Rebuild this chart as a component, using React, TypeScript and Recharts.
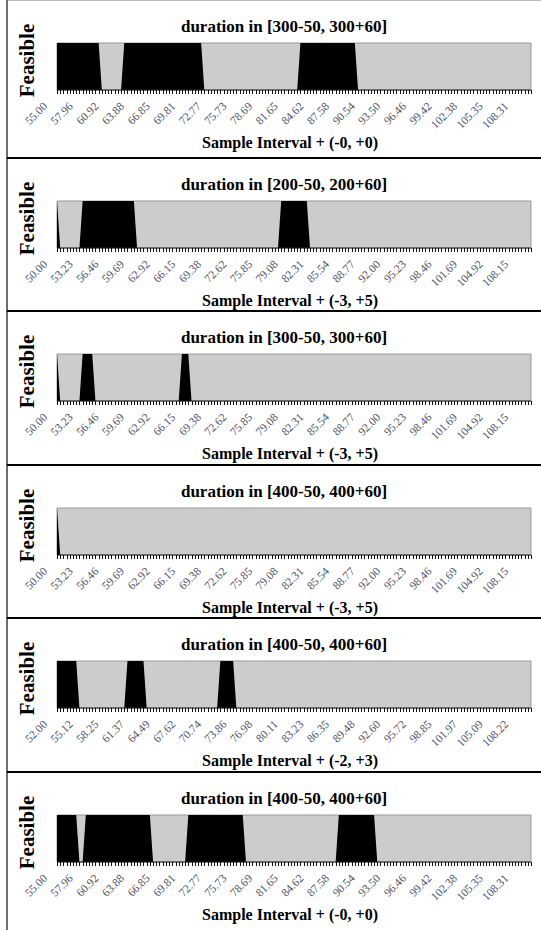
import React from "react";
import { AreaChart, Area, XAxis, YAxis, CartesianGrid } from "recharts";

// every panel has 149 sample points, a label on every 8th one
const POINTS = 149;
const LABEL_STEP = 8;

const ticksA = ["55.00", "57.96", "60.92", "63.88", "66.85", "69.81", "72.77", "75.73", "78.69", "81.65", "84.62", "87.58", "90.54", "93.50", "96.46", "99.42", "102.38", "105.35", "108.31"];
const ticksB = ["50.00", "53.23", "56.46", "59.69", "62.92", "66.15", "69.38", "72.62", "75.85", "79.08", "82.31", "85.54", "88.77", "92.00", "95.23", "98.46", "101.69", "104.92", "108.15"];
const ticksC = ["52.00", "55.12", "58.25", "61.37", "64.49", "67.62", "70.74", "73.86", "76.98", "80.11", "83.23", "86.35", "89.48", "92.60", "95.72", "98.85", "101.97", "105.09", "108.22"];

// feasible runs, [first, last] sample index
const feasible1 = [[0, 13], [21, 45], [76, 93]];
const feasible2 = [[0, 0], [8, 24], [70, 78]];
const feasible3 = [[0, 0], [8, 11], [39, 41]];
const feasible4 = [[0, 0]];
const feasible5 = [[0, 6], [22, 27], [51, 55]];
const feasible6 = [[0, 6], [9, 29], [41, 58], [88, 99]];

const titles = [
  "duration in [300-50, 300+60]",
  "duration in [200-50, 200+60]",
  "duration in [300-50, 300+60]",
  "duration in [400-50, 400+60]",
  "duration in [400-50, 400+60]",
  "duration in [400-50, 400+60]",
];
const xTitles = [
  "Sample Interval + (-0, +0)",
  "Sample Interval + (-3, +5)",
  "Sample Interval + (-3, +5)",
  "Sample Interval + (-3, +5)",
  "Sample Interval + (-2, +3)",
  "Sample Interval + (-0, +0)",
];

const SERIF = "'Liberation Serif', 'Times New Roman', serif";
const PLOT_TOP = 42;
const PLOT_H = 47;

const panelTops = [1, 159, 312, 466, 619, 773];
const panelHeights = [156, 151, 152, 151, 152, 157];
const separators = [157, 310, 464, 617, 771];

function buildRows(runs: number[][]) {
  const rows: { i: number; feasible: number }[] = [];
  for (let i = 0; i < POINTS; i++) {
    const on = runs.some(([a, b]) => i >= a && i <= b);
    rows.push({ i, feasible: on ? 1 : 0 });
  }
  return rows;
}

// rotated label on every 8th sample
const makeTick = (labels: string[]) => (props: any) => {
  const { x, y, payload } = props;
  const i = Number(payload.value);
  if (i % LABEL_STEP !== 0 || !labels[i / LABEL_STEP]) return <g />;
  const tx = x - 9;
  const ty = y + 11;
  return (
    <text
      x={tx}
      y={ty}
      transform={`rotate(-45 ${tx} ${ty})`}
      textAnchor="end"
      fontSize={11.5}
      fontFamily={SERIF}
      fill="#4c5062"
    >
      {labels[i / LABEL_STEP]}
    </text>
  );
};

const feasibleLabel = (props: any) => {
  const vb = props.viewBox || {};
  const cx = vb.x + 27;
  const cy = vb.y + vb.height / 2 - 6;
  return (
    <text
      x={cx}
      y={cy}
      transform={`rotate(-90 ${cx} ${cy})`}
      textAnchor="middle"
      dominantBaseline="central"
      fontSize={21}
      fontWeight="bold"
      fontFamily={SERIF}
      fill="#000"
    >
      Feasible
    </text>
  );
};

// axis title plus the dense minor tick marks (one per sample)
const xTitleLabel = (text: string) => (props: any) => {
  const vb = props.viewBox || {};
  const step = vb.width / (POINTS - 1);
  let d = "";
  for (let i = 0; i < POINTS; i++) {
    const x = Math.round(vb.x + i * step) + 0.5;
    d += `M${x},${vb.y}v4`;
  }
  return (
    <g>
      <path d={d} stroke="#111" strokeWidth={1} fill="none" shapeRendering="crispEdges" />
      <text
        x={vb.x + vb.width / 2 - 4}
        y={vb.y + 52}
        textAnchor="middle"
        dominantBaseline="central"
        fontSize={16}
        fontWeight="bold"
        fontFamily={SERIF}
        fill="#000"
      >
        {text}
      </text>
    </g>
  );
};

function Panel({ idx, ticks, runs }: { idx: number; ticks: string[]; runs: number[][] }) {
  const rows = buildRows(runs);
  const h = panelHeights[idx];
  return (
    <div style={{ position: "absolute", left: 0, top: panelTops[idx], width: 541, height: h }}>
      <div
        style={{
          position: "absolute",
          left: 47,
          width: 474,
          top: 17,
          textAlign: "center",
          fontFamily: SERIF,
          fontWeight: "bold",
          fontSize: 17,
          lineHeight: "17px",
          whiteSpace: "nowrap",
        }}
      >
        {titles[idx]}
      </div>
      <AreaChart
        width={541}
        height={h}
        data={rows}
        margin={{ top: PLOT_TOP, right: 10, bottom: 0, left: 0 }}
      >
        <CartesianGrid
          fill="#cccccc"
          stroke="#9a9a9a"
          horizontalCoordinatesGenerator={({ offset }: any) => [offset.top, offset.top + offset.height]}
          verticalCoordinatesGenerator={({ offset }: any) => [offset.left, offset.left + offset.width]}
        />
        <XAxis
          dataKey="i"
          interval={0}
          height={h - PLOT_TOP - PLOT_H}
          tick={makeTick(ticks)}
          tickSize={4}
          tickMargin={2}
          tickLine={false}
          axisLine={{ stroke: "#222" }}
          label={xTitleLabel(xTitles[idx])}
        />
        <YAxis
          domain={[0, 1]}
          width={57}
          tick={false}
          tickLine={false}
          axisLine={false}
          label={feasibleLabel}
        />
        <Area
          type="linear"
          dataKey="feasible"
          stroke="none"
          fill="#000"
          fillOpacity={1}
          dot={false}
          activeDot={false}
          isAnimationActive={false}
        />
      </AreaChart>
    </div>
  );
}

export default function App() {
  return (
    <div style={{ position: "absolute", left: 0, top: 0, width: 541, height: 930, background: "#fff", fontFamily: SERIF }}>
      <div style={{ position: "absolute", left: 6, top: 0, width: 535, height: 1, background: "#b8b8b8" }} />
      <div style={{ position: "absolute", left: 6, top: 0, width: 2, height: 930, background: "#6e6e6e" }} />
      <Panel idx={0} ticks={ticksA} runs={feasible1} />
      <Panel idx={1} ticks={ticksB} runs={feasible2} />
      <Panel idx={2} ticks={ticksB} runs={feasible3} />
      <Panel idx={3} ticks={ticksB} runs={feasible4} />
      <Panel idx={4} ticks={ticksC} runs={feasible5} />
      <Panel idx={5} ticks={ticksA} runs={feasible6} />
      {separators.map((y) => (
        <div key={y} style={{ position: "absolute", left: 7, top: y, width: 534, height: 2, background: "#000" }} />
      ))}
    </div>
  );
}
